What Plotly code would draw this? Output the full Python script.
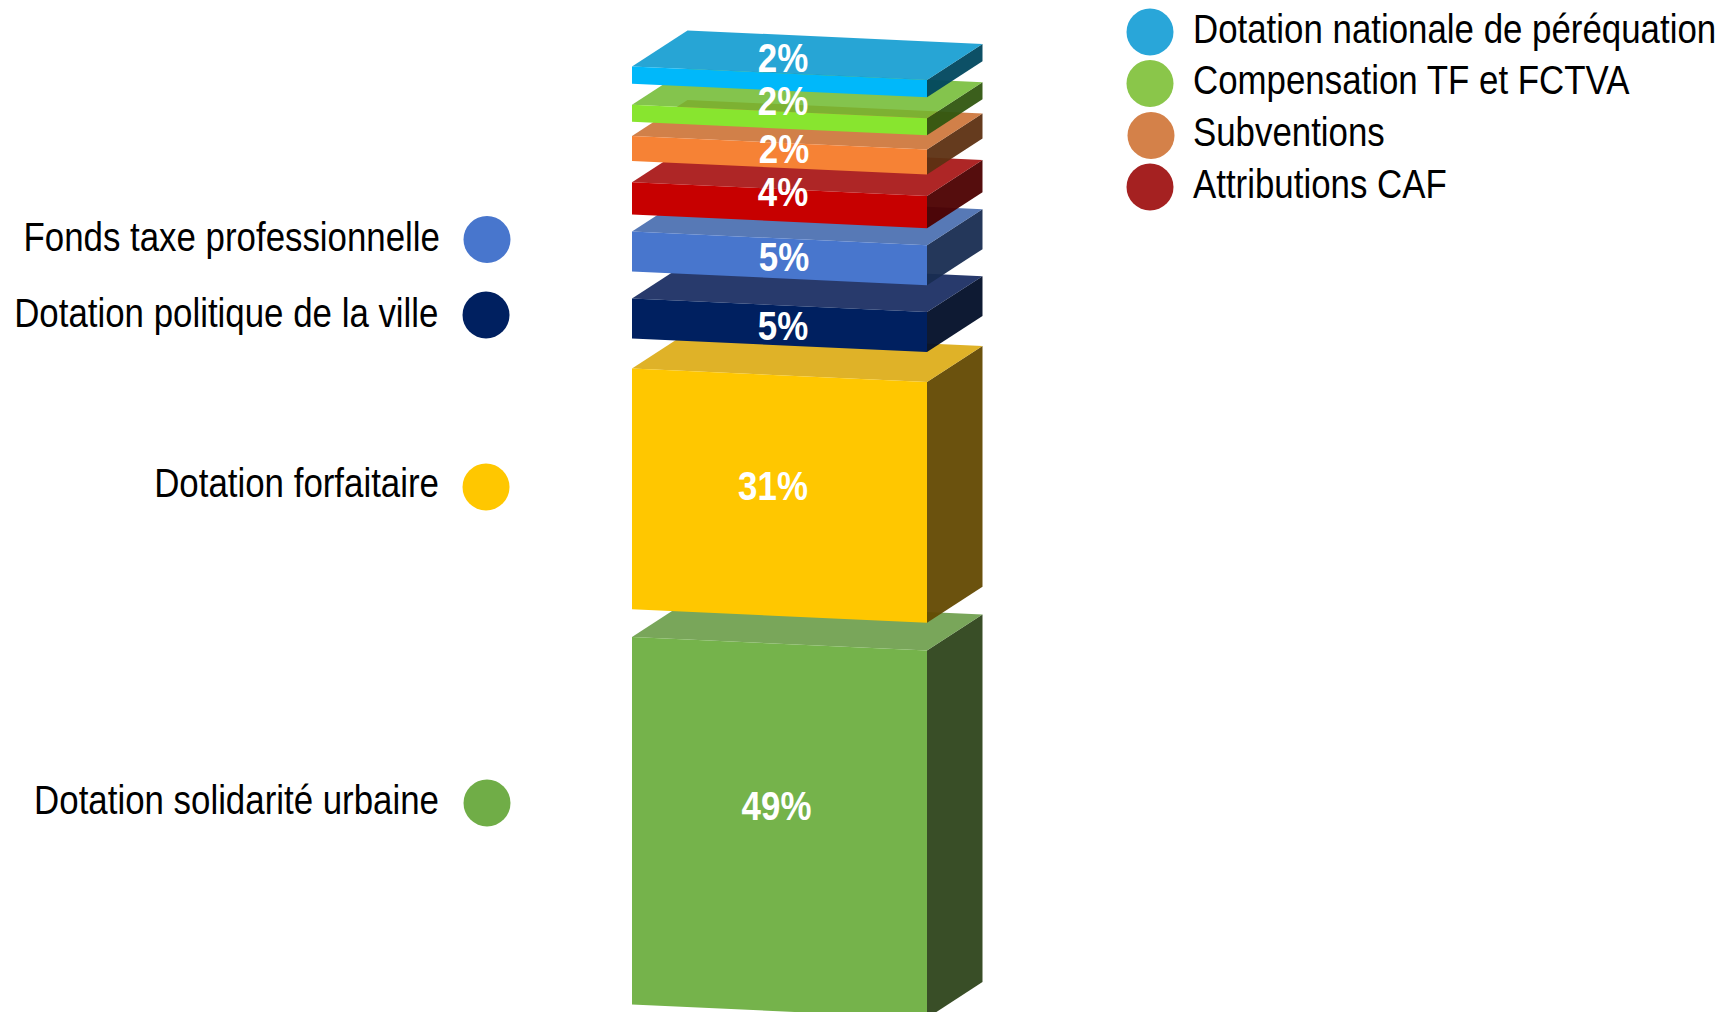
import plotly.graph_objects as go

# ---- data (bottom to top)
segment_names = ["Dotation solidarité urbaine", "Dotation forfaitaire", "Dotation politique de la ville",
                 "Fonds taxe professionnelle", "Attributions CAF", "Subventions",
                 "Compensation TF et FCTVA", "Dotation nationale de péréquation"]
segment_labels = ["49%", "31%", "5%", "5%", "4%", "2%", "2%", "2%"]
segment_heights = [49.0, 32.1, 5.33, 5.33, 4.3, 3.33, 2.27, 2.3]
gaps_above = [3.7, 4.0, 3.6, 2.27, 2.85, 1.9, 2.8, 0]

front_colors = ["#75B34B", "#FFC700", "#002060", "#4876CD", "#C70000", "#F68235", "#88E52F", "#00B8FA"]
top_colors = ["#79A65A", "#DFB228", "#283B6C", "#5779B6", "#AE2525", "#D18049", "#85C44D", "#27A5D5"]
side_colors = ["#384E26", "#6B520E", "#0E1A33", "#24375A", "#550A0A", "#653A1E", "#3A5E1C", "#0C5066"]
marker_colors = ["#70AD47", "#FFC700", "#002060", "#4876CD", "#A52121", "#D48149", "#8AC64A", "#29A6D9"]

left_legend = ["Fonds taxe professionnelle", "Dotation politique de la ville", "Dotation forfaitaire",
               "Dotation solidarité urbaine"]
right_legend = ["Dotation nationale de péréquation", "Compensation TF et FCTVA", "Subventions", "Attributions CAF"]

# ---- style / layout constants
W, H = 1727, 1012
PX_PER_UNIT = 7.5
BASE_PX = 1004.5
X0, X1 = 632.0, 927.0
DEPTH_X, DEPTH_Y = 55.5, 36 / PX_PER_UNIT
SLANT = 13.6 / PX_PER_UNIT
TEXT_FONT = "Liberation Sans, Arial, sans-serif"
FONT_SIZE = 41
NARROW = 0.85
TEXT_DY = 3.3


def u(py):
    return (BASE_PX - py) / PX_PER_UNIT


def rgba(hex_color, alpha):
    r, g, b = (int(hex_color[i:i + 2], 16) for i in (1, 3, 5))
    f = lambda c: max(0, round((c - (1 - alpha) * 255) / alpha))
    return f"rgba({f(r)},{f(g)},{f(b)},{alpha})"


def poly(fig, xs, ys, color):
    fig.add_trace(go.Scatter(x=xs + xs[:1], y=ys + ys[:1], mode="lines", fill="toself",
                             fillcolor=color, line=dict(width=0), hoverinfo="skip", showlegend=False))


fig = go.Figure()

level = 0.0
for i, height in enumerate(segment_heights):
    b, t = level, level + height
    # right-hand side, top, then opaque front; upper boxes veil the lower ones
    poly(fig, [X1, X1 + DEPTH_X, X1 + DEPTH_X, X1],
         [b - SLANT, b - SLANT + DEPTH_Y, t - SLANT + DEPTH_Y, t - SLANT], rgba(side_colors[i], 0.95))
    poly(fig, [X0, X0 + DEPTH_X, X1 + DEPTH_X, X1],
         [t, t + DEPTH_Y, t - SLANT + DEPTH_Y, t - SLANT], rgba(top_colors[i], 0.85))
    poly(fig, [X0, X1, X1, X0], [b, b - SLANT, t - SLANT, t], front_colors[i])
    level = t + gaps_above[i]

# ---- legends
left_rows = [(487, 239.5, 440, 237), (486, 315, 438.5, 313), (486, 487, 439, 483.5), (487, 803, 439, 800)]
right_rows = [(1150, 32, 1193, 29), (1150, 83.5, 1193, 80), (1151, 135.5, 1193, 132), (1150, 187, 1193, 184)]

for names, rows, pos in ((left_legend, left_rows, "middle left"), (right_legend, right_rows, "middle right")):
    for name, (mx, my, tx, ty) in zip(names, rows):
        fig.add_trace(go.Scatter(x=[mx], y=[u(my)], mode="markers", hoverinfo="skip", showlegend=False,
                                 marker=dict(size=47, color=marker_colors[segment_names.index(name)], line=dict(width=0))))
        fig.add_trace(go.Scatter(x=[tx], y=[u(ty + TEXT_DY)], mode="text", text=[name], textposition=pos, hoverinfo="skip",
                                 showlegend=False, cliponaxis=False,
                                 textfont=dict(family=TEXT_FONT, size=FONT_SIZE, color="#000000")))

# ---- value labels
label_px = [(776.5, 806), (773, 486), (783, 326), (784, 257), (783, 192), (784, 149), (783, 101), (783, 58)]
for text, (px, py) in zip(segment_labels, label_px):
    fig.add_trace(go.Scatter(x=[px], y=[u(py + TEXT_DY)], mode="text", text=[text], textposition="middle center",
                             hoverinfo="skip", showlegend=False, cliponaxis=False,
                             textfont=dict(family=TEXT_FONT, size=FONT_SIZE, color="#FFFFFF", weight="bold")))

fig.update_layout(
    width=W, height=H, autosize=False, margin=dict(l=0, r=0, t=0, b=0, pad=0),
    paper_bgcolor="#FFFFFF", plot_bgcolor="#FFFFFF", showlegend=False,
    xaxis=dict(visible=False, range=[0, W], fixedrange=True),
    yaxis=dict(visible=False, range=[u(H), u(0)], fixedrange=True),
)

# the reference uses a narrow face: condense the real text glyphs
post = """
document.body.style.margin='0';document.body.style.overflow='hidden';
(function(){
  function narrow(){
    document.querySelectorAll('.textpoint text').forEach(function(t){
      if(t.getAttribute('textLength')) return;
      var w=t.getComputedTextLength();
      t.setAttribute('textLength',(w*%s).toFixed(1));
      t.setAttribute('lengthAdjust','spacingAndGlyphs');
    });
  }
  narrow();
  var gd=document.getElementById('{plot_id}');
  if(gd&&gd.on) gd.on('plotly_afterplot',narrow);
  setTimeout(narrow,50);
})();
""" % NARROW
fig.write_html("out.html", post_script=post, config={"displayModeBar": False})
